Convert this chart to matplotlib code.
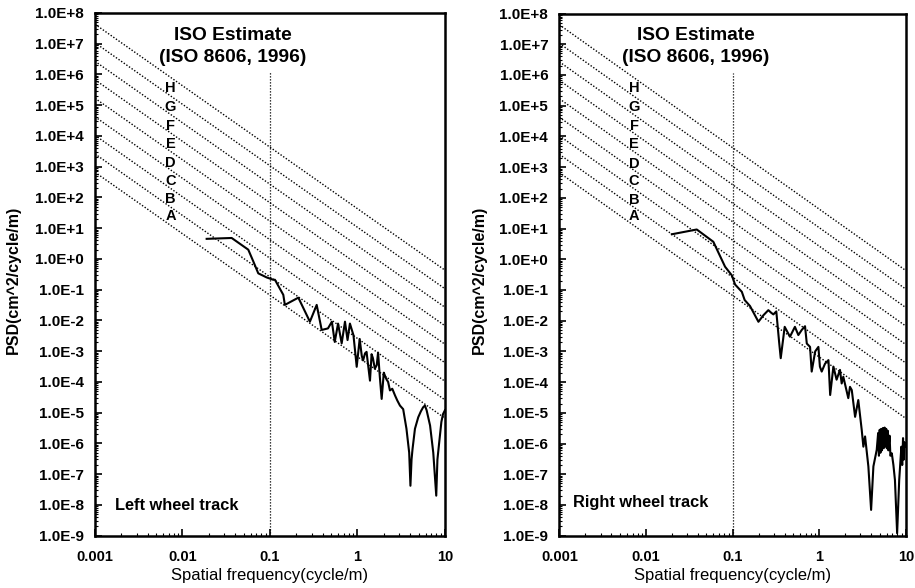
import matplotlib
matplotlib.use('Agg')
import matplotlib.pyplot as plt
from matplotlib.ticker import FixedLocator, LogLocator, FuncFormatter, NullFormatter
import numpy as np

plt.rcParams['font.family'] = ['Liberation Sans', 'DejaVu Sans']

# ---------------- data ----------------
x_ticks = [0.001, 0.01, 0.1, 1, 10]
x_tick_labels = ['0.001', '0.01', '0.1', '1', '10']
y_exponents = list(range(-9, 9))

# ISO 8606 class boundaries: PSD (cm^2/cycle/m) at reference frequency 0.1 cycle/m
iso_ref_freq = 0.1
iso_bounds = [0.066, 0.26, 1.05, 4.2, 16.8, 67, 268, 1070, 4300]
iso_classes = ['A', 'B', 'C', 'D', 'E', 'F', 'G', 'H']
iso_label_freq = 0.0073
iso_label_psd = [25, 87, 340, 1300, 5500, 21000, 90000, 370000]
ref_line_top = 1.2e6

left_freq = [0.0189, 0.0365, 0.0565, 0.0645, 0.0735, 0.0917, 0.109, 0.114, 0.142, 0.148,
             0.211, 0.286, 0.342, 0.39, 0.46, 0.51, 0.55, 0.60, 0.66, 0.72,
             0.77, 0.82, 0.90, 0.98, 1.06, 1.12, 1.16, 1.22, 1.27, 1.31,
             1.39, 1.45, 1.50, 1.58, 1.66, 1.72, 1.80, 1.89, 2.00, 2.06,
             2.15, 2.24, 2.35, 2.50, 2.69, 2.85, 3.06, 3.33, 3.63, 3.90,
             4.03, 4.15, 4.26, 4.54, 4.95, 5.30, 5.63, 5.90, 6.17, 6.76,
             7.35, 7.95, 8.20, 8.60, 9.10, 9.50, 10.0]
left_psd = [4.5, 4.8, 2.0, 0.83, 0.34, 0.25, 0.21, 0.21, 0.068, 0.032,
            0.055, 0.0091, 0.032, 0.0049, 0.0055, 0.0091, 0.002, 0.0079, 0.0018, 0.0091,
            0.0023, 0.0079, 0.0033, 3.1e-4, 2.5e-3, 7e-4, 5e-4, 8.5e-4, 9.5e-4, 4.5e-4,
            1.1e-4, 8e-4, 6e-4, 2.7e-4, 3.5e-4, 9e-4, 1.5e-4, 2.8e-5, 2e-4, 1.6e-4,
            1.2e-4, 1e-4, 5.3e-5, 6e-5, 3.6e-5, 2.5e-5, 1.7e-5, 1.3e-5, 3e-6, 5e-7,
            4.2e-8, 3e-7, 6.6e-7, 3e-6, 7.1e-6, 1.1e-5, 1.5e-5, 1.7e-5, 1.2e-5, 3.8e-6,
            5e-7, 2e-8, 3e-7, 1.1e-6, 5e-6, 9e-6, 1.2e-5]

right_freq = [0.0199, 0.0386, 0.060, 0.082, 0.098, 0.107, 0.128, 0.138, 0.159, 0.199,
              0.227, 0.259, 0.280, 0.296, 0.320, 0.345, 0.360, 0.400, 0.460, 0.525,
              0.575, 0.630, 0.687, 0.720, 0.785, 0.820, 0.900, 0.980, 1.02, 1.07,
              1.17, 1.28, 1.34, 1.46, 1.59, 1.74, 1.82, 1.90, 2.17, 2.27,
              2.38, 2.60, 2.83, 3.10, 3.24, 3.39, 3.70, 3.98, 4.23, 4.62,
              4.80, 4.90, 5.00, 5.10, 5.20, 5.30, 5.45, 5.55, 5.70, 5.80,
              5.95, 6.05, 6.20, 6.30, 6.50, 6.65, 6.90, 7.20, 7.50, 7.95,
              8.40, 8.90, 9.10, 9.30, 9.50, 9.70, 10.0]
right_psd = [6.5, 9.3, 3.7, 0.57, 0.30, 0.15, 0.087, 0.047, 0.030, 0.0092,
             0.015, 0.022, 0.018, 0.016, 0.020, 2e-3, 6e-4, 6.3e-3, 3e-3, 6.3e-3,
             3.4e-3, 5e-3, 6.6e-3, 1.8e-3, 1.4e-3, 2.2e-4, 1e-3, 1.4e-3, 3.2e-4, 2.2e-4,
             4e-4, 5.2e-4, 3.8e-5, 3.2e-4, 1.2e-4, 2.5e-4, 9e-5, 1.5e-4, 3e-5, 7e-5,
             5.5e-5, 7.4e-6, 2.6e-5, 2.8e-6, 7.9e-7, 1.7e-6, 1.8e-7, 6.9e-9, 1.8e-7, 6.2e-7,
             2.2e-6, 4e-7, 2.8e-6, 5e-7, 3e-6, 6e-7, 3.2e-6, 7e-7, 3.3e-6, 8e-7,
             3e-6, 7e-7, 2.6e-6, 6e-7, 1.8e-6, 4e-7, 4.8e-7, 2e-7, 6.5e-8, 1.2e-9,
             6.5e-8, 7.9e-7, 2e-7, 1.5e-6, 3e-7, 1.1e-6, 8e-7]

panels = [
    dict(freq=left_freq, psd=left_psd, label='Left wheel track',
         rect=[0.1038, 0.089, 0.3825, 0.889], label_pos=(0.057, 0.057), ylab_x=-0.211),
    dict(freq=right_freq, psd=right_psd, label='Right wheel track',
         rect=[0.6113, 0.089, 0.3786, 0.888], label_pos=(0.04, 0.064), ylab_x=-0.209),
]

fig = plt.figure(figsize=(9.15, 5.88), dpi=100)


def yfmt(v, _):
    e = int(round(np.log10(v)))
    return f"1.0E{e:+d}"


for p in panels:
    ax = fig.add_axes(p['rect'])
    ax.set_xscale('log')
    ax.set_yscale('log')
    ax.set_xlim(x_ticks[0], x_ticks[-1])
    ax.set_ylim(10.0 ** y_exponents[0], 10.0 ** y_exponents[-1])

    # ISO class boundary lines (slope -2 in log-log)
    xl = np.array([x_ticks[0], x_ticks[-1]])
    for b in iso_bounds:
        ax.plot(xl, b * (xl / iso_ref_freq) ** -2, color='black', lw=1.0,
                linestyle=(0, (1, 1.3)), clip_on=True)
    for c, yv in zip(iso_classes, iso_label_psd):
        ax.text(iso_label_freq, yv, c, fontsize=10.5, fontweight='bold',
                ha='center', va='center')

    # reference vertical line at 0.1 cycle/m
    ax.plot([iso_ref_freq, iso_ref_freq], [10.0 ** y_exponents[0], ref_line_top],
            color='black', lw=0.9, linestyle=(0, (1, 1.4)))

    # measured PSD
    ax.plot(p['freq'], p['psd'], color='black', lw=1.5)

    ax.text(0.394, 0.957, 'ISO Estimate', transform=ax.transAxes, fontsize=13.8,
            fontweight='bold', ha='center', va='center')
    ax.text(0.394, 0.915, '(ISO 8606, 1996)', transform=ax.transAxes, fontsize=13.8,
            fontweight='bold', ha='center', va='center')
    ax.text(p['label_pos'][0], p['label_pos'][1], p['label'], transform=ax.transAxes,
            fontsize=11.8, fontweight='bold', ha='left', va='center')

    ax.xaxis.set_major_locator(FixedLocator(x_ticks))
    ax.set_xticklabels(x_tick_labels)
    ax.xaxis.set_minor_locator(LogLocator(base=10, subs=np.arange(2, 10), numticks=50))
    ax.xaxis.set_minor_formatter(NullFormatter())
    ax.yaxis.set_major_locator(FixedLocator([10.0 ** e for e in y_exponents]))
    ax.yaxis.set_major_formatter(FuncFormatter(yfmt))
    ax.yaxis.set_minor_locator(LogLocator(base=10, subs=np.arange(2, 10), numticks=50))
    ax.yaxis.set_minor_formatter(NullFormatter())

    ax.tick_params(axis='both', which='major', direction='in', length=5, width=1.2,
                   top=False, right=False)
    ax.tick_params(axis='both', which='minor', direction='in', length=2.5, width=0.8,
                   top=False, right=False)
    ax.tick_params(axis='y', which='major', pad=8, labelsize=11)
    ax.tick_params(axis='x', which='major', pad=10, labelsize=10.5)
    for lab in ax.get_xticklabels() + ax.get_yticklabels():
        lab.set_fontweight('bold')

    for s in ax.spines.values():
        s.set_linewidth(1.8)

    ax.set_xlabel('Spatial frequency(cycle/m)', fontsize=12, labelpad=3)
    ax.set_ylabel('PSD(cm^2/cycle/m)', fontsize=11.5, fontweight='bold')
    ax.yaxis.set_label_coords(p['ylab_x'], 0.489)

fig.savefig('out.png', dpi=100)
